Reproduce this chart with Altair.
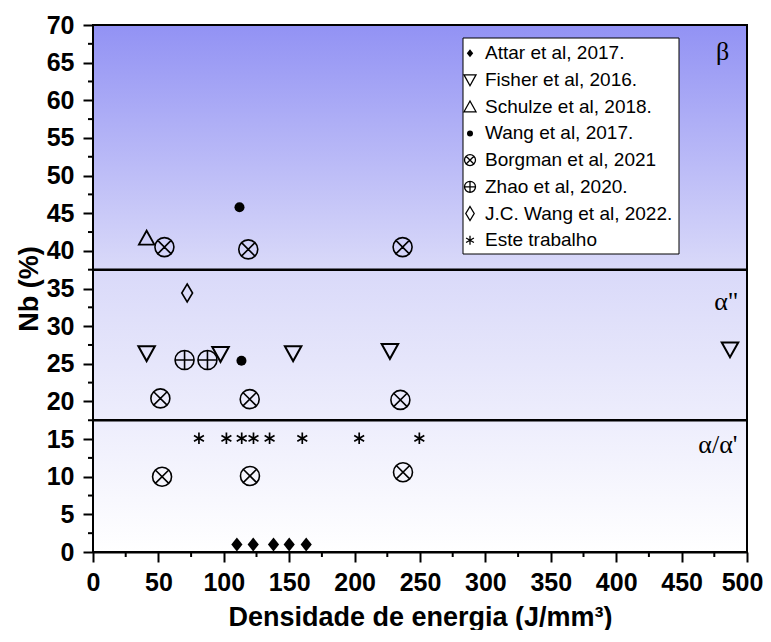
import altair as alt
import pandas as pd

# ---------------- data ----------------
x_domain = [0, 500]
y_domain = [0, 70]
x_major = [0, 50, 100, 150, 200, 250, 300, 350, 400, 450, 500]
x_minor = [25, 75, 125, 175, 225, 275, 325, 375, 425, 475]
y_major = [0, 5, 10, 15, 20, 25, 30, 35, 40, 45, 50, 55, 60, 65, 70]
y_minor = [2.5, 7.5, 12.5, 17.5, 22.5, 27.5, 32.5, 37.5, 42.5, 47.5, 52.5, 57.5, 62.5, 67.5]
phase_bounds = [17.5, 37.5]

attar_x = [110, 122.5, 138, 150, 163]
attar_y = [1, 1, 1, 1, 1]
fisher_x = [41, 97.5, 153, 227, 487]
fisher_y = [26.4, 26.3, 26.4, 26.7, 26.9]
schulze_x = [41]
schulze_y = [41.7]
wang_x = [112, 113.5]
wang_y = [45.8, 25.4]
borgman_x = [54.6, 118.7, 236.7, 51.5, 119.8, 235, 52.8, 120, 237]
borgman_y = [40.5, 40.2, 40.5, 20.4, 20.3, 20.2, 10, 10.1, 10.6]
zhao_x = [70, 87.5]
zhao_y = [25.5, 25.5]
jcwang_x = [72]
jcwang_y = [34.4]
este_x = [81, 102, 113.7, 122.7, 135, 160, 203.5, 249.5]
este_y = [15.1, 15.1, 15.1, 15.1, 15.1, 15.1, 15.1, 15.1]

legend_labels = [
    "Attar et al, 2017.",
    "Fisher et al, 2016.",
    "Schulze et al, 2018.",
    "Wang et al, 2017.",
    "Borgman et al, 2021",
    "Zhao et al, 2020.",
    "J.C. Wang et al, 2022.",
    "Este trabalho",
]

phase_text = ["β", "α\"", "α/α'"]
phase_x = [486.5, 493.5, 492.7]
phase_y = [66.4, 33.2, 14.2]

# ---------------- shapes ----------------
TRI_DOWN = "M -1 -0.85 L 1 -0.85 L 0 0.95 Z"
TRI_UP = "M -1 0.85 L 1 0.85 L 0 -0.95 Z"
DIAMOND = "M 0 -1 L 0.8 0 L 0 1 L -0.8 0 Z"
LOZENGE = "M 0 -1 L 0.6 0 L 0 1 L -0.6 0 Z"
OTIMES = ("M 1 0 A 1 1 0 1 1 -1 0 A 1 1 0 1 1 1 0 Z "
          "M -0.707 -0.707 L 0.707 0.707 M -0.707 0.707 L 0.707 -0.707")
OPLUS = ("M 1 0 A 1 1 0 1 1 -1 0 A 1 1 0 1 1 1 0 Z "
         "M -1 0 L 1 0 M 0 -1 L 0 1")
ASTER = "M 0 -1 L 0 1 M -0.87 -0.5 L 0.87 0.5 M -0.87 0.5 L 0.87 -0.5"

FONT = "Liberation Sans"
SERIF = "Liberation Serif"

x_scale = alt.Scale(domain=x_domain, nice=False, zero=False)
y_scale = alt.Scale(domain=y_domain, nice=False, zero=False)
x_axis = alt.Axis(values=x_major, title="Densidade de energia (J/mm³)", format="d",
                  tickSize=10, labelPadding=8, titleY=73, titleBaseline="alphabetic",
                  labelFlush=False, labelOverlap=False,
                  labelOffset={"condition": {"test": "datum.value === 500", "value": -5},
                               "value": 0})
y_axis = alt.Axis(values=y_major, title="Nb (%)", format="d",
                  tickSize=10, labelPadding=9, titleX=-56, titleBaseline="alphabetic",
                  labelFlush=False, labelOverlap=False)


def X(f):
    return alt.X(f, type="quantitative", scale=x_scale, axis=x_axis)


def Y(f):
    return alt.Y(f, type="quantitative", scale=y_scale, axis=y_axis)


bg_df = pd.DataFrame({"x0": [x_domain[0]], "x1": [x_domain[1]],
                      "y0": [y_domain[0]], "y1": [y_domain[1]]})

gradient = alt.LinearGradient(
    gradient="linear",
    stops=[alt.GradientStop(color="#9292F4", offset=0),
           alt.GradientStop(color="#D9D9F9", offset=0.46),
           alt.GradientStop(color="#FFFFFF", offset=1)],
    x1=0, x2=0, y1=0, y2=1,
)

background = alt.Chart(bg_df).mark_rect(fill=gradient, strokeWidth=0).encode(
    x=X("x0"), x2="x1", y=Y("y0"), y2="y1")

frame = alt.Chart(bg_df).mark_rect(fill=None, filled=False, stroke="black", strokeWidth=2).encode(
    x=X("x0"), x2="x1", y=Y("y0"), y2="y1")

lines = alt.Chart(pd.DataFrame({"v": phase_bounds})).mark_rule(
    color="black", strokeWidth=2.5).encode(y=Y("v"))

minor_x = alt.Chart(pd.DataFrame({"v": x_minor})).mark_rule(
    color="black", strokeWidth=2).encode(x=X("v"), y=alt.value(527), y2=alt.value(532))
minor_y = alt.Chart(pd.DataFrame({"v": y_minor})).mark_rule(
    color="black", strokeWidth=2).encode(y=Y("v"), x=alt.value(0), x2=alt.value(-5))


def series(xs, ys, shape, size, filled, sw=1.5):
    df = pd.DataFrame({"x": xs, "y": ys})
    return alt.Chart(df).mark_point(shape=shape, size=size, filled=filled, color="black",
                                    strokeWidth=sw, opacity=1).encode(x=X("x"), y=Y("y"))


specs = [
    (attar_x, attar_y, DIAMOND, 196, True, 1.0, 64),
    (fisher_x, fisher_y, TRI_DOWN, 272, False, 2.0, 144),
    (schulze_x, schulze_y, TRI_UP, 240, False, 1.8, 144),
    (wang_x, wang_y, "circle", 100, True, 1.0, 36),
    (borgman_x, borgman_y, OTIMES, 361, False, 1.6, 121),
    (zhao_x, zhao_y, OPLUS, 361, False, 1.6, 121),
    (jcwang_x, jcwang_y, LOZENGE, 324, False, 1.6, 196),
    (este_x, este_y, ASTER, 130, False, 1.7, 81),
]

points = [series(a, b, s, z, f, w) for a, b, s, z, f, w, _ in specs]

# ---------------- legend (manual box) ----------------
legend_box = alt.Chart(bg_df).mark_rect(fill="white", stroke="black", strokeWidth=1).encode(
    x=alt.value(370), x2=alt.value(586), y=alt.value(13), y2=alt.value(229))

legend_layers = [legend_box]
for i, (lab, spec) in enumerate(zip(legend_labels, specs)):
    _, _, shp, _, fil, sw, lsize = spec
    yy = 28.3 + 26.7 * i
    one = pd.DataFrame({"t": [lab]})
    legend_layers.append(
        alt.Chart(one).mark_point(shape=shp, size=lsize, filled=fil, color="black",
                                  strokeWidth=min(sw, 1.3), opacity=1).encode(
            x=alt.value(377), y=alt.value(yy)))
    legend_layers.append(
        alt.Chart(one).mark_text(align="left", baseline="middle", font=FONT, fontSize=19,
                                 color="black").encode(
            x=alt.value(392), y=alt.value(yy), text="t:N"))

phase_df = pd.DataFrame({"t": phase_text, "x": phase_x, "y": phase_y})
phase_labels = alt.Chart(phase_df).mark_text(align="right", baseline="middle", font=SERIF,
                                             fontSize=26, color="black").encode(
    x=X("x"), y=Y("y"), text="t:N")

chart = alt.layer(
    background, lines, minor_x, minor_y, *points, phase_labels, *legend_layers, frame
).properties(
    width=654, height=527,
    padding={"left": 85, "top": 17, "right": 16, "bottom": 78},
    autosize=alt.AutoSizeParams(type="none"),
).configure_view(stroke=None).configure_axis(
    grid=False, domainColor="black", domainWidth=2, tickColor="black", tickWidth=2,
    labelFont=FONT, labelFontWeight="bold", labelFontSize=25, labelColor="black",
    titleFont=FONT, titleFontWeight="bold", titleFontSize=27, titleColor="black",
    zindex=1,
)

chart.save("out.html", embed_options={"renderer": "svg", "actions": False})
